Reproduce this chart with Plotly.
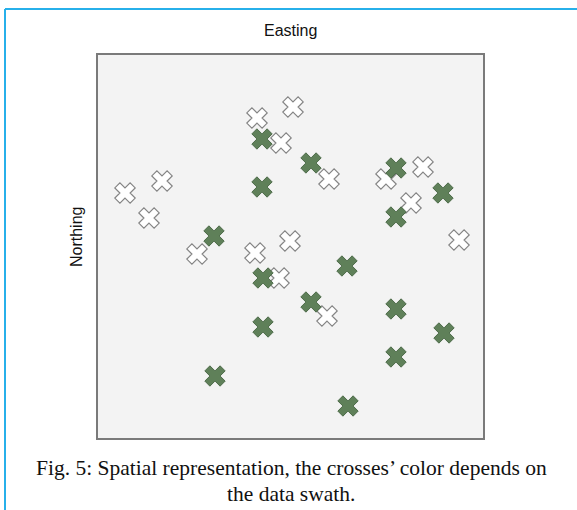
import plotly.graph_objects as go

# Positions (arbitrary plot units: Easting / Northing)
green_easting = [164, 213, 164, 298, 345, 298, 116, 249, 165, 213, 298, 165, 346, 298, 117, 250]
green_northing = [299, 275, 251, 270, 245, 221, 202, 172, 160, 136, 129, 111, 105, 81, 62, 32]

white_easting = [195, 159, 183, 231, 288, 325, 313, 64, 27, 51, 99, 192, 157, 181, 229, 361]
white_northing = [331, 320, 295, 259, 259, 271, 235, 257, 245, 220, 184, 197, 185, 160, 122, 198]

caption_lines = ["Fig. 5: Spatial representation, the crosses\u2019 color depends on", "the data swath."]

W, H = 577, 510
L, R, T, B = 98, 94, 55, 72
pw, ph = W - L - R, H - T - B

fig = go.Figure()
fig.add_trace(go.Scatter(
    x=white_easting, y=white_northing, mode="markers",
    marker=dict(symbol="x", size=18, color="#ffffff", line=dict(color="#858585", width=1.2)),
    hoverinfo="skip", showlegend=False))
fig.add_trace(go.Scatter(
    x=green_easting, y=green_northing, mode="markers",
    marker=dict(symbol="x", size=18, color="#5f8059", line=dict(color="#4c6a48", width=1)),
    hoverinfo="skip", showlegend=False))

axis_common = dict(showgrid=False, zeroline=False, showticklabels=False, ticks="",
                   showline=True, mirror=True, linecolor="#7a7a7a", linewidth=1.5)
fig.update_xaxes(range=[0, 385], **axis_common)
fig.update_yaxes(range=[0, 383], **axis_common)

def px_x(p):
    return (p - L) / pw

def px_y(p):
    return 1 - (p - T) / ph

shapes = [
    dict(type="line", xref="paper", yref="paper", x0=px_x(5), x1=px_x(5), y0=px_y(9), y1=px_y(515),
         line=dict(color="#27b0ea", width=2)),
    dict(type="line", xref="paper", yref="paper", x0=px_x(5), x1=px_x(580), y0=px_y(9), y1=px_y(9),
         line=dict(color="#27b0ea", width=2)),
]

annotations = [
    dict(text="Easting", xref="paper", yref="paper", x=px_x(290.5), y=px_y(30), showarrow=False,
         font=dict(family="Liberation Sans, Arial", size=16, color="#111111"), xanchor="center", yanchor="middle"),
    dict(text="Northing", xref="paper", yref="paper", x=px_x(77), y=px_y(237), showarrow=False, textangle=-90,
         font=dict(family="Liberation Sans, Arial", size=16, color="#111111"), xanchor="center", yanchor="middle"),
    dict(text=caption_lines[0], xref="paper", yref="paper", x=px_x(291), y=px_y(468), showarrow=False,
         font=dict(family="Liberation Serif, Times New Roman", size=21.5, color="#111111"), xanchor="center", yanchor="middle"),
    dict(text=caption_lines[1], xref="paper", yref="paper", x=px_x(291), y=px_y(494), showarrow=False,
         font=dict(family="Liberation Serif, Times New Roman", size=21.5, color="#111111"), xanchor="center", yanchor="middle"),
]

fig.update_layout(
    width=W, height=H,
    margin=dict(l=L, r=R, t=T, b=B, pad=0),
    paper_bgcolor="#ffffff", plot_bgcolor="#f3f3f3",
    shapes=shapes, annotations=annotations,
)

fig.write_html("out.html", config={"displayModeBar": False},
               post_script="document.body.style.margin='0';document.body.style.overflow='hidden';")
